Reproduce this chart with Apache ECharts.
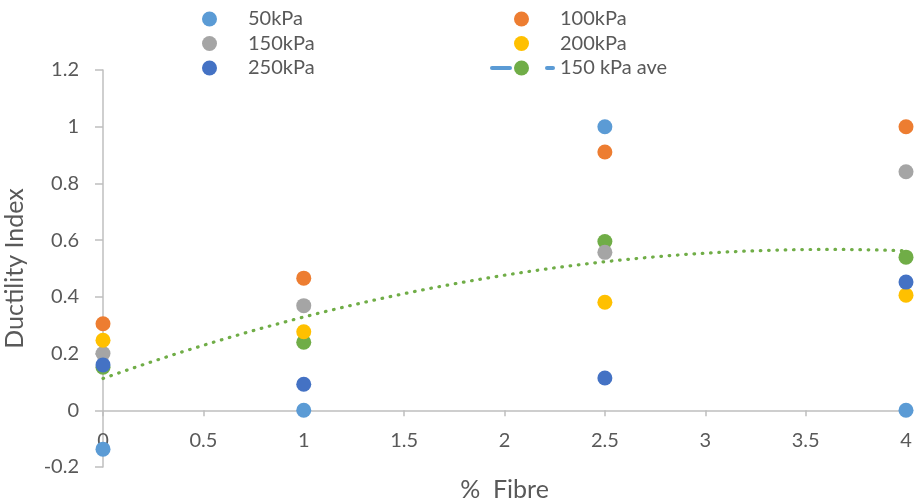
<!DOCTYPE html>
<html>
<head>
<meta charset="utf-8">
<script src="https://cdn.jsdelivr.net/npm/echarts@6/dist/echarts.min.js"></script>
<style>
  html, body { margin: 0; padding: 0; background: #fff; }
  #chart { width: 914px; height: 501px; }
</style>
</head>
<body>
<div id="chart"></div>
<script>
// Fibre content (%) at which each confining pressure was tested
const fibre = [0, 1, 2.5, 4];

// Ductility index per confining pressure
const kPa50  = [-0.137, 0, 1.0, 0];
const kPa100 = [0.305, 0.466, 0.911, 1.0];
const kPa150 = [0.200, 0.369, 0.557, 0.841];
const kPa200 = [0.247, 0.277, 0.381, 0.406];
const kPa250 = [0.160, 0.092, 0.114, 0.452];
const kPa150Ave = [0.152, 0.240, 0.595, 0.540];

const yTicks = { min: -0.2, max: 1.2, step: 0.2 };
const xTicks = { min: 0, max: 4, step: 0.5 };

const FONT = 'Lato, "Open Sans", sans-serif';
const FS = 20;
const TITLE_FS = 25;
const GREY_TEXT = '#595959';
const AXIS = '#bfbfbf';

function pairs(ys) { return fibre.map((x, i) => [x, ys[i]]); }

// Second-order polynomial least-squares trend of the averaged series
function quadFit(xs, ys) {
  let s0 = xs.length, s1 = 0, s2 = 0, s3 = 0, s4 = 0, t0 = 0, t1 = 0, t2 = 0;
  xs.forEach((x, i) => {
    const y = ys[i];
    s1 += x; s2 += x * x; s3 += x ** 3; s4 += x ** 4;
    t0 += y; t1 += x * y; t2 += x * x * y;
  });
  const M = [[s0, s1, s2, t0], [s1, s2, s3, t1], [s2, s3, s4, t2]];
  for (let c = 0; c < 3; c++) {
    for (let r = c + 1; r < 3; r++) {
      const f = M[r][c] / M[c][c];
      for (let k = c; k < 4; k++) M[r][k] -= f * M[c][k];
    }
  }
  const z = [0, 0, 0];
  for (let r = 2; r >= 0; r--) {
    let s = M[r][3];
    for (let k = r + 1; k < 3; k++) s -= M[r][k] * z[k];
    z[r] = s / M[r][r];
  }
  return x => z[0] + z[1] * x + z[2] * x * x;
}
const trend = quadFit(fibre, kPa150Ave);
const trendPts = [];
for (let i = 0; i <= 80; i++) {
  const x = i * 0.05;
  trendPts.push([x, trend(x)]);
}

const scatter = (name, data, color, z) => ({
  name, type: 'scatter', data: pairs(data), symbol: 'circle', symbolSize: 15,
  itemStyle: { color, opacity: 1 }, z
});

const legendBase = {
  orient: 'vertical', itemWidth: 15, itemHeight: 15, itemGap: 4.5,
  icon: 'circle', top: 4, padding: 5,
  textStyle: { fontFamily: FONT, fontSize: FS, color: GREY_TEXT, padding: [0, 0, 0, 26] },
  selectedMode: false
};

const chart = echarts.init(document.getElementById('chart'), null, { renderer: 'canvas' });
chart.setOption({
  animation: false,
  backgroundColor: '#ffffff',
  grid: { left: 103, right: 8, top: 70, bottom: 34, containLabel: false, outerBoundsMode: 'none' },
  legend: [
    Object.assign({}, legendBase, { left: 197, data: ['50kPa', '150kPa', '250kPa'] }),
    Object.assign({}, legendBase, { left: 509, data: ['100kPa', '200kPa', '150 kPa ave'] })
  ],
  xAxis: {
    type: 'value', min: xTicks.min, max: xTicks.max, interval: xTicks.step,
    name: '%  Fibre', nameLocation: 'middle', nameGap: 10,
    nameTextStyle: { fontFamily: FONT, fontSize: TITLE_FS, color: GREY_TEXT, verticalAlign: 'top' },
    axisLine: { onZero: true, lineStyle: { color: AXIS, width: 1.5 } },
    axisTick: { show: true, length: 6, lineStyle: { color: AXIS, width: 1.5 } },
    // labels sit just under the zero line
    axisLabel: { margin: -36, fontFamily: FONT, fontSize: FS, color: GREY_TEXT },
    splitLine: { show: false }
  },
  yAxis: {
    type: 'value', min: yTicks.min, max: yTicks.max, interval: yTicks.step,
    name: 'Ductility Index', nameLocation: 'middle', nameGap: 76, nameRotate: 90,
    nameTextStyle: { fontFamily: FONT, fontSize: TITLE_FS, color: GREY_TEXT },
    axisLine: { show: true, onZero: false, lineStyle: { color: AXIS, width: 1.5 } },
    axisTick: { show: true, length: 8, lineStyle: { color: AXIS, width: 1.5 } },
    axisLabel: { margin: 24, fontFamily: FONT, fontSize: FS, color: GREY_TEXT,
      formatter: v => String(Math.round(v * 10) / 10) },
    splitLine: { show: false }
  },
  graphic: [
    // dashed line key next to the averaged series marker
    { type: 'rect', shape: { x: 490, y: 66, width: 22, height: 4, r: 2 }, style: { fill: '#5b9bd5' }, z: 100 },
    { type: 'rect', shape: { x: 545, y: 66, width: 10, height: 4, r: 2 }, style: { fill: '#5b9bd5' }, z: 100 }
  ],
  series: [
    scatter('150 kPa ave', kPa150Ave, '#70ad47', 2),
    {
      name: 'trend', type: 'line', data: trendPts, showSymbol: false, symbol: 'none',
      smooth: false, silent: true, z: 3,
      lineStyle: { color: '#70ad47', width: 3.2, type: [0.6, 7.7], cap: 'round' }
    },
    scatter('50kPa', kPa50, '#5b9bd5', 4),
    scatter('100kPa', kPa100, '#ed7d31', 4),
    scatter('150kPa', kPa150, '#a5a5a5', 4),
    scatter('200kPa', kPa200, '#ffc000', 4),
    scatter('250kPa', kPa250, '#4472c4', 4)
  ]
});
</script>
</body>
</html>
